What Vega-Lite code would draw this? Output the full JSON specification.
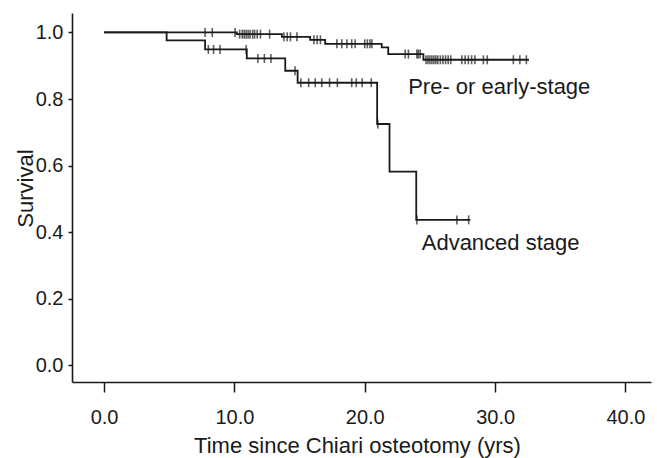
{
  "$schema": "https://vega.github.io/schema/vega-lite/v6.json",
  "width": 579,
  "height": 369,
  "autosize": {"type": "none"},
  "padding": {"left": 72, "top": 13, "right": 6, "bottom": 76},
  "background": "white",
  "config": {"view": {"stroke": null}, "font": "Liberation Sans"},
  "datasets": {
    "steps": [
      {"group": "Pre- or early-stage", "time": 0, "surv": 1.0},
      {"group": "Pre- or early-stage", "time": 10.18, "surv": 0.995},
      {"group": "Pre- or early-stage", "time": 13.64, "surv": 0.987},
      {"group": "Pre- or early-stage", "time": 15.81, "surv": 0.978},
      {"group": "Pre- or early-stage", "time": 16.96, "surv": 0.966},
      {"group": "Pre- or early-stage", "time": 21.3, "surv": 0.955},
      {"group": "Pre- or early-stage", "time": 21.8, "surv": 0.935},
      {"group": "Pre- or early-stage", "time": 24.5, "surv": 0.918},
      {"group": "Pre- or early-stage", "time": 32.6, "surv": 0.918},
      {"group": "Advanced stage", "time": 0, "surv": 1.0},
      {"group": "Advanced stage", "time": 4.8, "surv": 0.976},
      {"group": "Advanced stage", "time": 7.75, "surv": 0.949},
      {"group": "Advanced stage", "time": 10.95, "surv": 0.922},
      {"group": "Advanced stage", "time": 13.9, "surv": 0.885},
      {"group": "Advanced stage", "time": 14.85, "surv": 0.849},
      {"group": "Advanced stage", "time": 20.95, "surv": 0.725},
      {"group": "Advanced stage", "time": 21.9, "surv": 0.582},
      {"group": "Advanced stage", "time": 23.95, "surv": 0.437},
      {"group": "Advanced stage", "time": 28.1, "surv": 0.437}
    ],
    "censors": [
      {"group": "Pre- or early-stage", "time": 7.75, "surv": 1.0},
      {"group": "Pre- or early-stage", "time": 8.3, "surv": 1.0},
      {"group": "Pre- or early-stage", "time": 10.05, "surv": 1.0},
      {"group": "Pre- or early-stage", "time": 10.4, "surv": 0.995},
      {"group": "Pre- or early-stage", "time": 10.6, "surv": 0.995},
      {"group": "Pre- or early-stage", "time": 10.75, "surv": 0.995},
      {"group": "Pre- or early-stage", "time": 10.9, "surv": 0.995},
      {"group": "Pre- or early-stage", "time": 11.05, "surv": 0.995},
      {"group": "Pre- or early-stage", "time": 11.2, "surv": 0.995},
      {"group": "Pre- or early-stage", "time": 11.4, "surv": 0.995},
      {"group": "Pre- or early-stage", "time": 11.55, "surv": 0.995},
      {"group": "Pre- or early-stage", "time": 11.75, "surv": 0.995},
      {"group": "Pre- or early-stage", "time": 12.0, "surv": 0.995},
      {"group": "Pre- or early-stage", "time": 12.7, "surv": 0.995},
      {"group": "Pre- or early-stage", "time": 13.8, "surv": 0.987},
      {"group": "Pre- or early-stage", "time": 14.05, "surv": 0.987},
      {"group": "Pre- or early-stage", "time": 14.3, "surv": 0.987},
      {"group": "Pre- or early-stage", "time": 14.8, "surv": 0.987},
      {"group": "Pre- or early-stage", "time": 16.1, "surv": 0.978},
      {"group": "Pre- or early-stage", "time": 16.35, "surv": 0.978},
      {"group": "Pre- or early-stage", "time": 16.6, "surv": 0.978},
      {"group": "Pre- or early-stage", "time": 17.86, "surv": 0.966},
      {"group": "Pre- or early-stage", "time": 18.24, "surv": 0.966},
      {"group": "Pre- or early-stage", "time": 18.63, "surv": 0.966},
      {"group": "Pre- or early-stage", "time": 19.0, "surv": 0.966},
      {"group": "Pre- or early-stage", "time": 19.26, "surv": 0.966},
      {"group": "Pre- or early-stage", "time": 20.0, "surv": 0.966},
      {"group": "Pre- or early-stage", "time": 20.2, "surv": 0.966},
      {"group": "Pre- or early-stage", "time": 20.4, "surv": 0.966},
      {"group": "Pre- or early-stage", "time": 20.55, "surv": 0.966},
      {"group": "Pre- or early-stage", "time": 23.1, "surv": 0.935},
      {"group": "Pre- or early-stage", "time": 23.35, "surv": 0.935},
      {"group": "Pre- or early-stage", "time": 24.0, "surv": 0.935},
      {"group": "Pre- or early-stage", "time": 24.1, "surv": 0.935},
      {"group": "Pre- or early-stage", "time": 24.25, "surv": 0.935},
      {"group": "Pre- or early-stage", "time": 24.7, "surv": 0.918},
      {"group": "Pre- or early-stage", "time": 24.85, "surv": 0.918},
      {"group": "Pre- or early-stage", "time": 25.0, "surv": 0.918},
      {"group": "Pre- or early-stage", "time": 25.15, "surv": 0.918},
      {"group": "Pre- or early-stage", "time": 25.3, "surv": 0.918},
      {"group": "Pre- or early-stage", "time": 25.45, "surv": 0.918},
      {"group": "Pre- or early-stage", "time": 25.6, "surv": 0.918},
      {"group": "Pre- or early-stage", "time": 25.8, "surv": 0.918},
      {"group": "Pre- or early-stage", "time": 26.0, "surv": 0.918},
      {"group": "Pre- or early-stage", "time": 26.2, "surv": 0.918},
      {"group": "Pre- or early-stage", "time": 26.4, "surv": 0.918},
      {"group": "Pre- or early-stage", "time": 26.6, "surv": 0.918},
      {"group": "Pre- or early-stage", "time": 27.45, "surv": 0.918},
      {"group": "Pre- or early-stage", "time": 27.7, "surv": 0.918},
      {"group": "Pre- or early-stage", "time": 27.95, "surv": 0.918},
      {"group": "Pre- or early-stage", "time": 28.2, "surv": 0.918},
      {"group": "Pre- or early-stage", "time": 28.45, "surv": 0.918},
      {"group": "Pre- or early-stage", "time": 29.1, "surv": 0.918},
      {"group": "Pre- or early-stage", "time": 29.4, "surv": 0.918},
      {"group": "Pre- or early-stage", "time": 31.4, "surv": 0.918},
      {"group": "Pre- or early-stage", "time": 31.9, "surv": 0.918},
      {"group": "Pre- or early-stage", "time": 32.4, "surv": 0.918},
      {"group": "Advanced stage", "time": 8.0, "surv": 0.949},
      {"group": "Advanced stage", "time": 8.4, "surv": 0.949},
      {"group": "Advanced stage", "time": 8.9, "surv": 0.949},
      {"group": "Advanced stage", "time": 10.9, "surv": 0.949},
      {"group": "Advanced stage", "time": 11.8, "surv": 0.922},
      {"group": "Advanced stage", "time": 12.3, "surv": 0.922},
      {"group": "Advanced stage", "time": 12.8, "surv": 0.922},
      {"group": "Advanced stage", "time": 14.65, "surv": 0.885},
      {"group": "Advanced stage", "time": 15.1, "surv": 0.849},
      {"group": "Advanced stage", "time": 15.7, "surv": 0.849},
      {"group": "Advanced stage", "time": 16.2, "surv": 0.849},
      {"group": "Advanced stage", "time": 16.7, "surv": 0.849},
      {"group": "Advanced stage", "time": 17.3, "surv": 0.849},
      {"group": "Advanced stage", "time": 17.9, "surv": 0.849},
      {"group": "Advanced stage", "time": 19.0, "surv": 0.849},
      {"group": "Advanced stage", "time": 19.35, "surv": 0.849},
      {"group": "Advanced stage", "time": 19.8, "surv": 0.849},
      {"group": "Advanced stage", "time": 20.5, "surv": 0.849},
      {"group": "Advanced stage", "time": 21.0, "surv": 0.725},
      {"group": "Advanced stage", "time": 24.0, "surv": 0.437},
      {"group": "Advanced stage", "time": 27.07, "surv": 0.437},
      {"group": "Advanced stage", "time": 27.97, "surv": 0.437}
    ]
  },
  "layer": [
    {
      "data": {"name": "steps"},
      "mark": {"type": "line", "interpolate": "step-after", "color": "#1a1a1a", "strokeWidth": 1.8},
      "encoding": {
        "x": {
          "field": "time", "type": "quantitative",
          "scale": {"domain": [-2.46, 41.96], "nice": false, "zero": false},
          "axis": {
            "values": [0, 10, 20, 30, 40], "format": ".1f", "grid": false,
            "domainColor": "#1a1a1a", "domainWidth": 1.6,
            "tickColor": "#1a1a1a", "tickWidth": 1.5, "tickSize": 10,
            "labelFontSize": 20, "labelColor": "#1a1a1a", "labelPadding": 15, "labelFlush": false,
            "labelFont": "Liberation Sans",
            "title": "Time since Chiari osteotomy (yrs)",
            "titleFont": "Liberation Sans", "titleFontSize": 22, "titleFontWeight": "normal", "titleColor": "#1a1a1a",
            "titleX": 285, "titleY": 70, "titleAlign": "center", "titleBaseline": "alphabetic"
          }
        },
        "y": {
          "field": "surv", "type": "quantitative",
          "scale": {"domain": [-0.05, 1.0585], "nice": false, "zero": false},
          "axis": {
            "values": [0, 0.2, 0.4, 0.6, 0.8, 1.0], "format": ".1f", "grid": false,
            "domainColor": "#1a1a1a", "domainWidth": 1.6,
            "tickColor": "#1a1a1a", "tickWidth": 1.5, "tickSize": 4,
            "labelFontSize": 20, "labelColor": "#1a1a1a", "labelPadding": 5, "labelFlush": false,
            "labelFont": "Liberation Sans",
            "title": "Survival",
            "titleFont": "Liberation Sans", "titleFontSize": 22, "titleFontWeight": "normal", "titleColor": "#1a1a1a",
            "titleAngle": 270, "titleX": -40, "titleY": 175, "titleAlign": "center", "titleBaseline": "alphabetic"
          }
        },
        "detail": {"field": "group", "type": "nominal"}
      }
    },
    {
      "data": {"name": "censors"},
      "mark": {"type": "tick", "orient": "vertical", "color": "#1a1a1a", "size": 9, "thickness": 1.6},
      "encoding": {
        "x": {"field": "time", "type": "quantitative"},
        "y": {"field": "surv", "type": "quantitative"}
      }
    },
    {
      "data": {"values": [{}]},
      "mark": {"type": "text", "align": "left", "baseline": "alphabetic", "fontSize": 22, "font": "Liberation Sans", "color": "#1a1a1a"},
      "encoding": {
        "x": {"datum": 23.33, "type": "quantitative"},
        "y": {"datum": 0.8143, "type": "quantitative"},
        "text": {"value": "Pre- or early-stage"}
      }
    },
    {
      "data": {"values": [{}]},
      "mark": {"type": "text", "align": "left", "baseline": "alphabetic", "fontSize": 22, "font": "Liberation Sans", "color": "#1a1a1a"},
      "encoding": {
        "x": {"datum": 24.37, "type": "quantitative"},
        "y": {"datum": 0.3466, "type": "quantitative"},
        "text": {"value": "Advanced stage"}
      }
    }
  ]
}
